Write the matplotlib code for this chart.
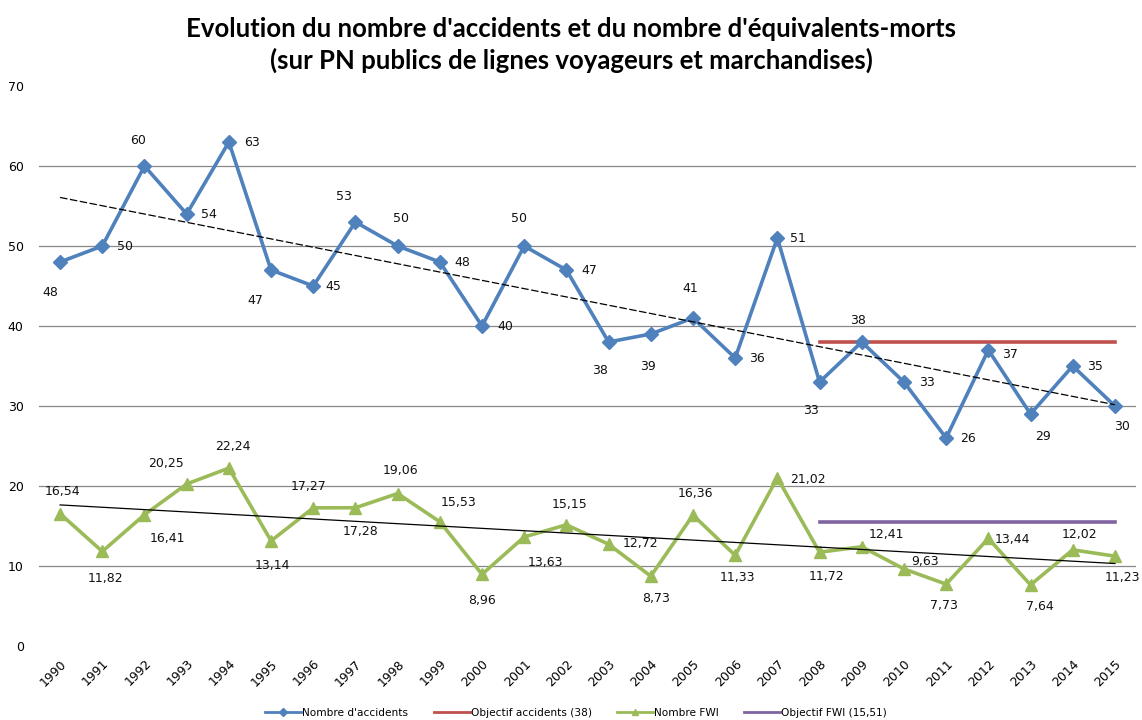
import numpy as np
import matplotlib
matplotlib.use("Agg")
import matplotlib.pyplot as plt
from matplotlib.lines import Line2D

years = list(range(1990, 2016))
accidents = [48, 50, 60, 54, 63, 47, 45, 53, 50, 48, 40, 50, 47, 38, 39, 41,
             36, 51, 33, 38, 33, 26, 37, 29, 35, 30]
fwi = [16.54, 11.82, 16.41, 20.25, 22.24, 13.14, 17.27, 17.28, 19.06, 15.53,
       8.96, 13.63, 15.15, 12.72, 8.73, 16.36, 11.33, 21.02, 11.72, 12.41,
       9.63, 7.73, 13.44, 7.64, 12.02, 11.23]
objectif_accidents = 38
objectif_fwi = 15.51
objectif_start = 2008

title = ("Evolution du nombre d'accidents et du nombre d'équivalents-morts\n"
         "(sur PN publics de lignes voyageurs et marchandises)")
legend_labels = ["Nombre d'accidents", "Objectif accidents (38)",
                 "Nombre FWI", "Objectif FWI (15,51)"]

# label offsets (pixels) relative to each point
acc_offsets = [(-10, -30), (23, 0), (-6, 26), (22, 0), (23, 0), (-16, -30),
               (20, 0), (-12, 26), (3, 28), (22, 0), (23, 0), (-5, 27),
               (23, 0), (-9, -28), (-3, -32), (-3, 29), (22, 0), (21, 0),
               (-9, -28), (-4, 22), (23, 0), (22, 0), (22, -5), (12, -22),
               (22, 0), (7, -20)]
fwi_offsets = [(2, 22), (3, -27), (23, -24), (-21, 21), (4, 22), (1, -25),
               (-5, 21), (5, -24), (3, 23), (19, 19), (0, -26), (21, -26),
               (3, 20), (32, 1), (5, -22), (2, 22), (2, -22), (31, -2),
               (7, -24), (25, 12), (21, 7), (-2, -21), (24, -1), (9, -22),
               (7, 15), (8, -21)]

BLUE = "#4F81BD"
RED = "#C0504D"
GREEN = "#9BBB59"
PURPLE = "#8064A2"

fig = plt.figure(figsize=(11.42, 7.20), dpi=100)
ax = fig.add_axes([39 / 1142, 1 - 646 / 720, (1136 - 39) / 1142, (646 - 86) / 720])

x = np.arange(len(years))

ax.plot(x, accidents, color=BLUE, lw=2.6, marker="D", ms=7, zorder=4)
ax.plot(x, fwi, color=GREEN, lw=2.6, marker="^", ms=9, zorder=4)

# objectives from 2008 onwards
i0 = years.index(objectif_start)
ax.plot([x[i0], x[-1]], [objectif_accidents] * 2, color=RED, lw=2.6, zorder=3)
ax.plot([x[i0], x[-1]], [objectif_fwi] * 2, color=PURPLE, lw=2.6, zorder=3)

# linear trend lines
for series, ls in ((accidents, (0, (6, 2))), (fwi, "-")):
    k, b = np.polyfit(x, series, 1)
    ax.plot(x, k * x + b, color="black", lw=0.9, ls=ls, zorder=5)

def fmt(v):
    if float(v).is_integer():
        return f"{int(v)}"
    return f"{v:.2f}".replace(".", ",")

for xi, v, (dx, dy) in zip(x, accidents, acc_offsets):
    ax.annotate(fmt(v), (xi, v), xytext=(dx, dy), textcoords="offset pixels",
                ha="center", va="center", fontsize=9, color="#111111", zorder=6)
for xi, v, (dx, dy) in zip(x, fwi, fwi_offsets):
    ax.annotate(fmt(v), (xi, v), xytext=(dx, dy), textcoords="offset pixels",
                ha="center", va="center", fontsize=9, color="#111111", zorder=6)

ax.set_xlim(-0.5, len(years) - 0.5)
ax.set_ylim(0, 70)
ax.set_yticks(range(0, 71, 10))
ax.set_xticks(x)
ax.set_xticklabels([str(y) for y in years], rotation=45, ha="right",
                   rotation_mode="anchor", fontsize=9)
ax.tick_params(axis="y", labelsize=9, length=0, pad=11)
ax.tick_params(axis="x", length=0, pad=8)
ax.grid(axis="y", color="#888888", lw=0.9)
gl = ax.get_ygridlines()
gl[0].set_visible(False)
gl[-1].set_visible(False)
for s in ax.spines.values():
    s.set_visible(False)

fig.text(0.5, 1 - 45 / 720, title, ha="center", va="center", fontsize=18.5,
         fontweight="bold", family="Lato", linespacing=1.33)

handles = [
    Line2D([], [], color=BLUE, lw=2, marker="D", ms=4),
    Line2D([], [], color=RED, lw=2),
    Line2D([], [], color=GREEN, lw=2, marker="^", ms=5),
    Line2D([], [], color=PURPLE, lw=2),
]
fig.legend(handles, legend_labels, loc="center", ncol=4,
           bbox_to_anchor=(576 / 1142, 1 - 713 / 720), frameon=False,
           fontsize=7.6, handlelength=3.4, handletextpad=0.1, columnspacing=2.4)

fig.savefig("out.png", dpi=100)
